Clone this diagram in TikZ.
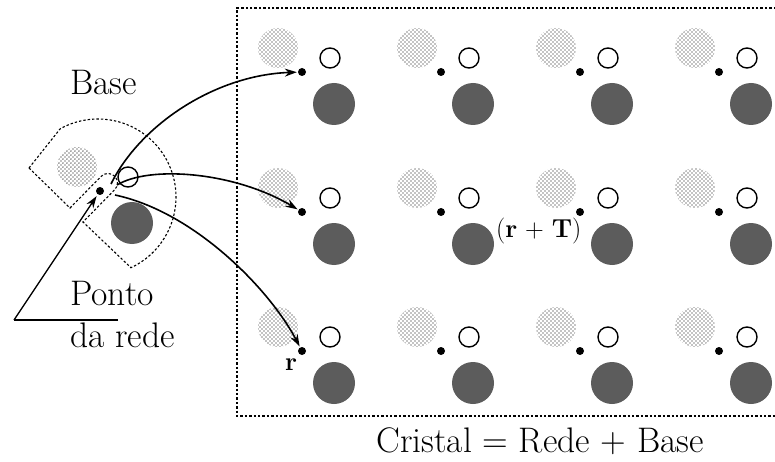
\documentclass[tikz,border=0pt]{standalone}
\usepackage{fontspec}
\usetikzlibrary{arrows.meta,patterns.meta}
\tikzdeclarepattern{
  name=stip,
  type=uncolored,
  bounding box={(0pt,0pt) and (4.4pt,4.4pt)},
  tile size={(4.4pt,4.4pt)},
  code={
    \pgfpathcircle{\pgfpoint{1.1pt}{1.1pt}}{0.75pt}
    \pgfpathcircle{\pgfpoint{3.3pt}{3.3pt}}{0.75pt}
    \pgfusepath{fill}
  }
}
\tikzset{
  lpt/.style={circle,fill=black,inner sep=0pt,minimum size=8pt},
  light/.style={pattern=stip,pattern color=black},
  dark/.style={fill=black!64},
  opn/.style={draw=black,line width=1.4pt},
  dsh/.style={draw=black,line width=1.1pt,dash pattern=on 2.4pt off 2pt},
  arr/.style={line width=1.6pt,-{Stealth[length=12pt,width=8pt]}},
  big/.style={font=\fontsize{35.5}{42}\selectfont,inner sep=0pt},
  small/.style={font=\fontsize{26}{30}\selectfont,inner sep=0pt}
}
\begin{document}
\begin{tikzpicture}[x=1pt,y=-1pt]
\useasboundingbox (0,0) rectangle (775,462);
% crystal frame
\draw[dsh] (776,8) -- (237,8) -- (237,416) -- (776,416);
% lattice with basis
\foreach \i/\x in {1/302,2/441,3/580,4/719}{
  \foreach \j/\y in {1/72,2/212,3/351}{
    \fill[light] (\x-24,\y-24) circle[radius=20];
    \fill[dark] (\x+32,\y+32) circle[radius=21];
    \draw[opn] (\x+28,\y-14) circle[radius=10];
    \node[lpt] (d\i\j) at (\x,\y) {};
  }
}
% isolated basis
\fill[light] (77,167) circle[radius=20];
\fill[dark] (132,223) circle[radius=21];
\draw[opn] (128,177) circle[radius=10];
\node[lpt] (b0) at (100,191) {};
% dashed outline of basis
\draw[dsh] (29,168) -- (60.2,128.8) arc[start angle=-119,end angle=65,radius=78]
  -- (83,222) -- (114.7,189.7) arc[start angle=45,end angle=-135,radius=9.5]
  -- (70,208) -- cycle;
% labels
\node[big,anchor=base west] (base) at (70,95) {Base};
\node[big,anchor=base west] (ponto) at (70,305) {Ponto};
\node[big,anchor=base west] (rede) at (70,347) {da rede};
\node[big,anchor=base] (cristal) at (540,452) {Cristal = Rede + Base};
\node[small,anchor=base west] (rt) at (496,237) {(\textbf{r} + \textbf{T})};
\node[small,anchor=base] (r) at (291,370) {\textbf{r}};
% pointer
\coordinate (c0) at (14,320);
\coordinate (c1) at (118,320);
\draw[line width=1.3pt] (c1) -- (c0);
\draw[line width=1.3pt,-{Stealth[length=12pt,width=8pt]},shorten >=2pt] (c0) -- (b0);
% translation arrows
\coordinate (s1) at (111,184);
\coordinate (s2) at (117,185);
\coordinate (s3) at (115,195);
\draw[arr,shorten >=1pt] (s1) .. controls (140,125) and (215,75) .. (d11);
\draw[arr,shorten >=1pt] (s2) .. controls (150,165) and (235,172) .. (d12);
\draw[arr,shorten >=1pt] (s3) .. controls (195,212) and (270,290) .. (d13);
\end{tikzpicture}
\end{document}
